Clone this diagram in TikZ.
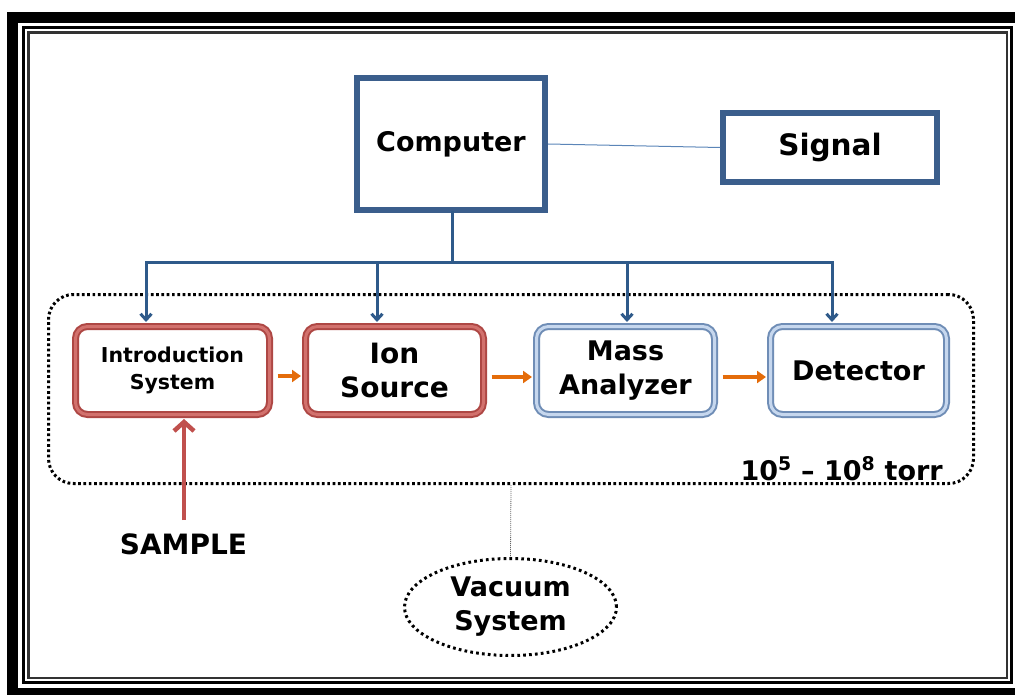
\documentclass[tikz,border=0pt]{standalone}
\usepackage{fontspec}
\setmainfont{DejaVu Sans}
\usetikzlibrary{arrows.meta,shapes.geometric}

\definecolor{frameblue}{HTML}{3B5E8C}
\definecolor{busblue}{HTML}{2F5A8A}
\definecolor{linkblue}{HTML}{5B85B8}
\definecolor{redout}{HTML}{AE4744}
\definecolor{redin}{HTML}{D2716D}
\definecolor{blueout}{HTML}{6F8DB6}
\definecolor{bluein}{HTML}{C6D7EE}
\definecolor{flow}{HTML}{E46C0A}
\definecolor{samplered}{HTML}{C0504D}

\newcommand{\setfs}[2]{\fontsize{#1}{#2}\selectfont}

\begin{document}
\begin{tikzpicture}[x=1pt, y=-1pt,
  every node/.style={inner sep=0pt},
  ctrlbox/.style={rectangle, draw=frameblue, line width=6pt, fill=white},
  stagebox/.style={rectangle, rounded corners=12pt, fill=white, align=center,
    minimum height=88pt, line width=2pt, double distance=3pt},
  redbox/.style={stagebox, draw=redout, double=redin},
  bluebox/.style={stagebox, draw=blueout, double=bluein},
  chamberbox/.style={rectangle, rounded corners=25pt, draw=black, line width=3pt,
    dash pattern=on 2.7pt off 2.6pt, minimum width=925pt, minimum height=189pt},
  vacbox/.style={ellipse, draw=black, line width=3pt, dash pattern=on 2.7pt off 3.2pt,
    minimum width=212pt, minimum height=97pt, align=center},
  bus/.style={draw=busblue, line width=3pt, line cap=rect},
  busarrow/.style={draw=busblue, line width=3pt,
    -{Straight Barb[length=6pt,width=11pt]}, shorten >=3.5pt},
  flowarrow/.style={draw=flow, line width=4pt, -{Triangle[length=9pt,width=12pt]},
    shorten <=7pt, shorten >=3.5pt},
  samplearrow/.style={draw=samplered, line width=4.5pt,
    -{Straight Barb[length=9pt,width=20pt]}, shorten >=3.5pt},
  linkline/.style={draw=linkblue, line width=1pt},
  vacline/.style={draw=black!60, line width=0.8pt, dash pattern=on 1pt off 1pt}
]
\useasboundingbox (0,0) rectangle (1015,695);

% page frame
\draw[line width=11pt] (12.5,17.5) rectangle (1021,693.5);
\draw[line width=3pt] (23.5,28) rectangle (1011,682);
\draw[line width=2.5pt, black!80] (28.5,32.5) rectangle (1007,678);

% vacuum chamber
\node[chamberbox] (chamber) at (511,389) {};

% control boxes
\node[ctrlbox, minimum width=188pt, minimum height=132pt,
  font=\bfseries\setfs{27}{32}] (comp) at (451,144) {Computer};
\node[ctrlbox, minimum width=214pt, minimum height=69pt,
  font=\bfseries\setfs{29.5}{34}] (sig) at (830,147.5) {Signal};
\draw[linkline] (comp.east) -- (sig.west);

% instrument stages
\node[redbox, minimum width=194pt, font=\bfseries\setfs{20.5}{27}] (intro)
  at (172.5,370.5) {Introduction\\System};
\node[redbox, minimum width=178pt, font=\bfseries\setfs{28}{34}] (ion)
  at (394.5,370.5) {Ion\\Source};
\node[bluebox, minimum width=178pt, font=\bfseries\setfs{27}{34}] (mass)
  at (625.5,370.5) {Mass\\Analyzer};
\node[bluebox, minimum width=176pt, font=\bfseries\setfs{27}{34}] (det)
  at (858.5,370.5) {Detector};

% control bus from the computer
\coordinate (tap) at (452,263);
\coordinate (b1) at (146,263);
\coordinate (b2) at (377,263);
\coordinate (b3) at (627,263);
\coordinate (b4) at (832,263);
\draw[bus] (comp.south -| tap) -- (tap);
\draw[bus] (b1) -- (b4);
\foreach \b/\n in {b1/intro,b2/ion,b3/mass,b4/det}
  \draw[busarrow] (\b) -- (\b |- \n.north);

% ion flow
\draw[flowarrow] ([yshift=-5.5pt]intro.east) -- ([yshift=-5.5pt]ion.west);
\draw[flowarrow] ([yshift=-6.5pt]ion.east) -- ([yshift=-6.5pt]mass.west);
\draw[flowarrow] ([yshift=-6.5pt]mass.east) -- ([yshift=-6.5pt]det.west);

% sample inlet
\node[font=\bfseries\setfs{28}{32}] (sample) at (183.5,544) {SAMPLE};
\coordinate (inlet) at (184,520);
\draw[samplearrow] (inlet) -- (inlet |- intro.south);

% pressure label
\node[anchor=base east, font=\bfseries\setfs{27}{32}] (torr) at (943,480)
  {10\textsuperscript{5} – 10\textsuperscript{8} torr};

% vacuum system
\node[vacbox, font=\bfseries\setfs{27}{34}] (vac) at (510.5,607) {Vacuum\\System};
\draw[vacline] (chamber.south) -- (vac.north);
\end{tikzpicture}
\end{document}
